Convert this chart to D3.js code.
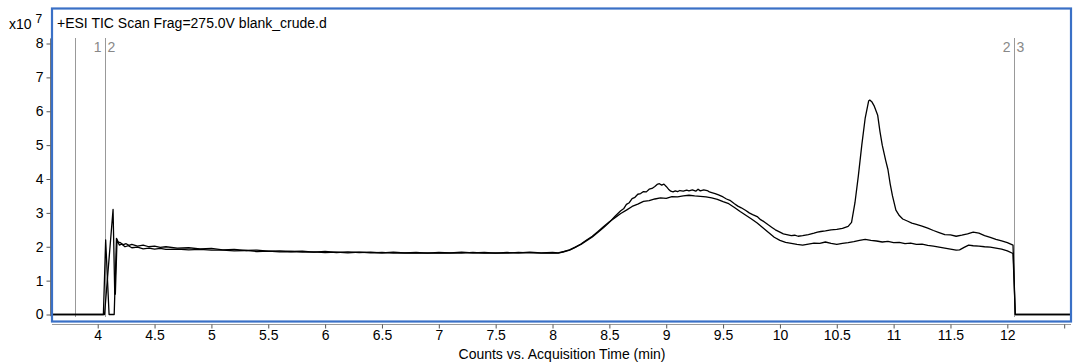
<!DOCTYPE html>
<html>
<head>
<meta charset="utf-8">
<script src="https://cdn.jsdelivr.net/npm/d3@7"></script>
<style>
  html, body { margin: 0; padding: 0; background: #fff; }
  svg { display: block; font-family: "Liberation Sans", Arial, sans-serif; }
</style>
</head>
<body>
<svg id="chart" width="1073" height="364"></svg>
<script>
// TIC trace with the 10.8 min peak: [time (min), counts x10^7]
const traceA = [
  [3.598,0],[4.05,0],[4.07,2.2],[4.10,0],[4.145,0],[4.165,2.25],[4.18,2.14],[4.2,2.12],[4.225,2.06],
  [4.25,2.09],[4.275,2.04],[4.3,2.07],[4.35,2.02],[4.4,2.05],[4.45,2.0],[4.5,2.02],[4.55,1.98],
  [4.6,2.0],[4.7,1.96],[4.8,1.97],[4.9,1.94],[5.0,1.95],[5.1,1.91],[5.2,1.92],[5.3,1.89],[5.4,1.9],
  [5.5,1.87],[5.6,1.88],[5.7,1.86],[5.8,1.87],[5.9,1.84],[6.0,1.86],[6.1,1.83],[6.2,1.85],[6.3,1.83],
  [6.4,1.84],[6.5,1.82],[6.6,1.84],[6.7,1.82],[6.8,1.83],[6.9,1.81],[7.0,1.83],[7.1,1.82],[7.2,1.84],
  [7.3,1.82],[7.4,1.83],[7.5,1.81],[7.6,1.83],[7.7,1.82],[7.8,1.84],[7.9,1.82],[8.0,1.83],[8.05,1.82],
  [8.1,1.86],[8.15,1.91],[8.2,1.99],[8.25,2.07],[8.3,2.18],[8.35,2.29],[8.4,2.43],[8.45,2.57],
  [8.5,2.72],[8.55,2.9],[8.6,3.06],[8.625,3.12],[8.65,3.25],[8.675,3.3],[8.7,3.42],[8.725,3.46],
  [8.75,3.55],[8.775,3.57],[8.8,3.63],[8.825,3.62],[8.85,3.7],[8.875,3.72],[8.9,3.78],[8.92,3.84],
  [8.94,3.86],[8.96,3.82],[8.98,3.85],[9.0,3.78],[9.02,3.7],[9.04,3.64],[9.06,3.62],[9.08,3.65],
  [9.1,3.63],[9.12,3.66],[9.15,3.64],[9.18,3.67],[9.2,3.65],[9.23,3.68],[9.26,3.64],[9.28,3.7],
  [9.3,3.65],[9.33,3.68],[9.36,3.66],[9.38,3.62],[9.4,3.6],[9.43,3.57],[9.46,3.53],[9.5,3.47],
  [9.53,3.41],[9.56,3.37],[9.6,3.27],[9.63,3.2],[9.66,3.15],[9.7,3.07],[9.73,3.0],[9.76,2.95],
  [9.8,2.89],[9.83,2.8],[9.86,2.74],[9.9,2.64],[9.93,2.57],[9.96,2.5],[10.0,2.43],[10.03,2.38],
  [10.06,2.36],[10.1,2.33],[10.13,2.34],[10.16,2.31],[10.2,2.33],[10.25,2.36],[10.3,2.4],[10.33,2.43],
  [10.36,2.45],[10.4,2.47],[10.45,2.5],[10.5,2.51],[10.55,2.54],[10.6,2.6],[10.63,2.72],[10.66,3.3],
  [10.69,4.1],[10.72,5.0],[10.75,5.8],[10.78,6.3],[10.79,6.33],[10.81,6.27],[10.83,6.15],[10.86,5.88],
  [10.88,5.4],[10.9,5.0],[10.93,4.55],[10.95,4.28],[10.97,3.85],[10.99,3.5],[11.02,3.08],[11.05,2.92],
  [11.08,2.82],[11.12,2.76],[11.16,2.7],[11.2,2.66],[11.25,2.61],[11.3,2.55],[11.35,2.48],[11.4,2.42],
  [11.45,2.36],[11.5,2.35],[11.55,2.31],[11.6,2.34],[11.65,2.38],[11.7,2.43],[11.75,2.4],[11.8,2.33],
  [11.85,2.28],[11.9,2.22],[11.95,2.17],[12.0,2.12],[12.05,2.05],[12.07,0],[12.56,0]
];

// TIC trace without the late peak: [time (min), counts x10^7]
const traceB = [
  [3.598,0],[4.06,0],[4.135,3.1],[4.15,0.6],[4.155,0.6],[4.17,2.2],[4.19,2.05],[4.21,2.08],[4.24,2.0],
  [4.27,2.03],[4.3,1.97],[4.35,1.99],[4.4,1.94],[4.45,1.96],[4.5,1.93],[4.55,1.95],[4.6,1.92],
  [4.7,1.93],[4.8,1.91],[4.9,1.92],[5.0,1.9],[5.1,1.9],[5.2,1.88],[5.3,1.89],[5.4,1.86],[5.5,1.87],
  [5.6,1.85],[5.7,1.86],[5.8,1.84],[5.9,1.85],[6.0,1.83],[6.1,1.84],[6.2,1.82],[6.3,1.84],[6.4,1.82],
  [6.5,1.83],[6.6,1.81],[6.7,1.82],[6.8,1.81],[6.9,1.82],[7.0,1.81],[7.1,1.82],[7.2,1.81],[7.3,1.83],
  [7.4,1.81],[7.5,1.82],[7.6,1.81],[7.7,1.83],[7.8,1.82],[7.9,1.81],[8.0,1.82],[8.05,1.81],[8.1,1.85],
  [8.15,1.9],[8.2,1.98],[8.25,2.08],[8.3,2.2],[8.35,2.31],[8.4,2.45],[8.45,2.6],[8.5,2.74],[8.55,2.86],
  [8.6,2.98],[8.65,3.08],[8.7,3.19],[8.75,3.26],[8.8,3.34],[8.85,3.36],[8.9,3.41],[8.95,3.44],
  [9.0,3.43],[9.05,3.48],[9.1,3.47],[9.15,3.5],[9.2,3.52],[9.25,3.5],[9.3,3.49],[9.35,3.47],[9.4,3.44],
  [9.45,3.4],[9.5,3.33],[9.55,3.27],[9.6,3.16],[9.65,3.04],[9.7,2.93],[9.75,2.82],[9.8,2.7],
  [9.85,2.56],[9.9,2.42],[9.95,2.28],[10.0,2.19],[10.05,2.13],[10.1,2.1],[10.15,2.07],[10.2,2.05],
  [10.25,2.08],[10.3,2.11],[10.35,2.1],[10.4,2.14],[10.45,2.1],[10.5,2.07],[10.55,2.1],[10.6,2.12],
  [10.65,2.15],[10.7,2.19],[10.75,2.22],[10.8,2.19],[10.85,2.17],[10.9,2.14],[10.95,2.16],[11.0,2.12],
  [11.05,2.13],[11.1,2.09],[11.15,2.11],[11.2,2.07],[11.25,2.08],[11.3,2.04],[11.35,2.02],[11.4,1.99],
  [11.45,1.96],[11.5,1.93],[11.55,1.9],[11.58,1.91],[11.62,1.98],[11.66,2.05],[11.7,2.03],[11.75,2.02],
  [11.8,2.0],[11.85,1.99],[11.9,1.96],[11.95,1.93],[12.0,1.88],[12.05,1.8],[12.07,0],[12.56,0]
];

// Integration markers: time and the segment numbers shown either side
const markerTimes = [3.80, 4.064, 12.06];
const markerLeftLabels = ["", "1", "2"];
const markerRightLabels = ["", "2", "3"];

const xTickValues = [4, 4.5, 5, 5.5, 6, 6.5, 7, 7.5, 8, 8.5, 9, 9.5, 10, 10.5, 11, 11.5, 12, 12.5];
const xTickLabels = ["4", "4.5", "5", "5.5", "6", "6.5", "7", "7.5", "8", "8.5", "9", "9.5", "10", "10.5", "11", "11.5", "12", ""];
const yTickValues = [0, 1, 2, 3, 4, 5, 6, 7, 8];

const titleText = "+ESI TIC Scan Frag=275.0V blank_crude.d";
const xAxisTitle = "Counts vs. Acquisition Time (min)";

const FONT = "Liberation Sans, Arial, sans-serif";
const svg = d3.select("#chart");
const frame = { left: 52, right: 1071, top: 8.5, bottom: 321.5 };

const x = d3.scaleLinear().domain([3.598, 12.56]).range([frame.left, frame.right]);
const y = d3.scaleLinear().domain([0, 8]).range([314.5, 43.5]);

// Y axis (ticks outward to the left)
const yAxis = d3.axisLeft(y).tickValues(yTickValues).tickSize(4).tickPadding(3).tickFormat(d3.format("d"));
const gy = svg.append("g").attr("transform", "translate(50.5,0)").call(yAxis);
gy.select(".domain").attr("stroke", "#777").attr("d", `M0,${y(8.15)}V${y(-0.05)}`);
gy.selectAll(".tick line").attr("stroke", "#555");
gy.selectAll(".tick text").attr("font-size", 14).attr("fill", "#000").attr("font-family", FONT);

// X axis
const xAxis = d3.axisBottom(x).tickValues(xTickValues).tickSize(4).tickPadding(2)
  .tickFormat((d, i) => xTickLabels[i]);
const gx = svg.append("g").attr("transform", "translate(0,324.5)").call(xAxis);
gx.select(".domain").attr("stroke", "#999").attr("d", `M${frame.left},0H${frame.right}`);
gx.selectAll(".tick line").attr("stroke", "#555");
gx.selectAll(".tick text").attr("font-size", 14).attr("fill", "#000").attr("font-family", FONT);

svg.append("text").attr("x", 562).attr("y", 359).attr("text-anchor", "middle")
  .attr("font-size", 14).text(xAxisTitle);

// Exponent label for the count axis
const expo = svg.append("text").attr("x", 9).attr("y", 29).attr("font-size", 14);
expo.append("tspan").text("x10 ");
expo.append("tspan").attr("dy", -6).attr("font-size", 12).text("7");

// Marker lines and labels
const mk = svg.append("g");
markerTimes.forEach((t, i) => {
  const mx = Math.round(x(t)) + 0.5;
  mk.append("line").attr("x1", mx).attr("x2", mx).attr("y1", 38).attr("y2", 317)
    .attr("stroke", "#999").attr("stroke-width", 1);
  if (markerLeftLabels[i]) {
    mk.append("text").attr("x", mx - 4).attr("y", 52).attr("text-anchor", "end")
      .attr("font-size", 14).attr("fill", "#888").text(markerLeftLabels[i]);
  }
  if (markerRightLabels[i]) {
    mk.append("text").attr("x", mx + 2).attr("y", 52).attr("text-anchor", "start")
      .attr("font-size", 14).attr("fill", "#888").text(markerRightLabels[i]);
  }
});

// Chromatogram traces
const line = d3.line().x(d => x(d[0])).y(d => y(d[1]));
[traceA, traceB].forEach(tr => {
  svg.append("path").datum(tr).attr("d", line).attr("fill", "none")
    .attr("stroke", "#000").attr("stroke-width", 1.3).attr("stroke-linejoin", "round");
});

// Title inside the frame
svg.append("text").attr("x", 57).attr("y", 28).attr("font-size", 14).text(titleText);

// Blue plot frame
svg.append("rect").attr("x", frame.left).attr("y", frame.top)
  .attr("width", frame.right - frame.left).attr("height", frame.bottom - frame.top)
  .attr("fill", "none").attr("stroke", "#3a70c6").attr("stroke-width", 2.2);
</script>
</body>
</html>
